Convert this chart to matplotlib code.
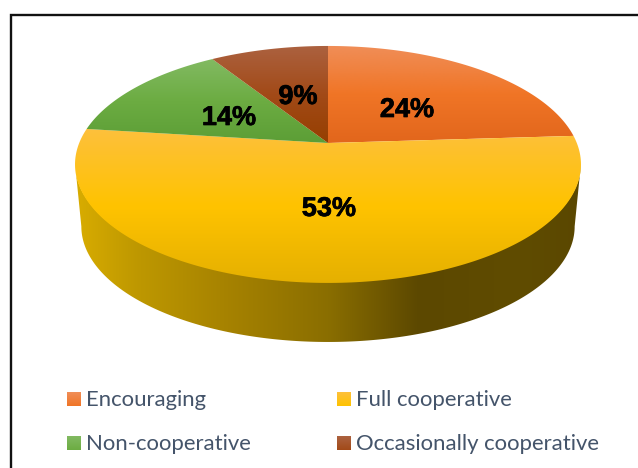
import numpy as np
import matplotlib
matplotlib.use("Agg")
import matplotlib.pyplot as plt
from matplotlib.colors import LinearSegmentedColormap as LSC
from matplotlib.patches import Polygon
import matplotlib.patheffects as pe

categories = ["Encouraging", "Full cooperative", "Non-cooperative", "Occasionally cooperative"]
values = [24, 53, 14, 9]
labels = ["24%", "53%", "14%", "9%"]

top_grads = [["#F08E58", "#F07526", "#E2661C"],
             ["#FDC03C", "#FFC300", "#E5B000"],
             ["#82BA62", "#6CAC42", "#5C9E36"],
             ["#AC6240", "#A24A18", "#963F00"]]
side_stops = [(0.0, "#D8AC00"), (0.12, "#BE9800"), (0.30, "#A68200"), (0.50, "#8A6E00"),
              (0.68, "#5C4800"), (0.88, "#604C00"), (1.0, "#5A4700")]
label_pos = [(407, 110), (329, 209), (229, 118), (298, 97)]

CX, APEX, B, A, K = 328.0, 143.0, 114.6, 248.8, -0.181
S = 0.975


def project(theta):
    u, v = np.cos(theta), np.sin(theta)
    d = 1 - K * v
    return CX + A * u / d, APEX - B * v / d


fig = plt.figure(figsize=(6.38, 4.68), dpi=100)
ax = fig.add_axes([0, 0, 1, 1])
ax.axis("off")


def grad_fill(poly_xy, extent, cmap, horizontal=False, z=2):
    g = np.linspace(0, 1, 256)
    arr = g[None, :] if horizontal else g[:, None]
    im = ax.imshow(arr, extent=extent, cmap=cmap, aspect="auto", zorder=z,
                   vmin=0, vmax=1, interpolation="bilinear")
    patch = Polygon(poly_xy, closed=True, transform=ax.transData, fc="none", ec="none")
    ax.add_patch(patch)
    im.set_clip_path(patch)


# side wall between the lower half of the top face and the lower rim
t0 = np.arcsin(-K)
t = np.linspace(np.pi + t0, 2 * np.pi - t0, 300)
tx, ty = project(t)
bx = CX + (tx - CX) * S
by = 226.5 + (ty - 164.5) * S
side = np.vstack([np.column_stack([tx, ty - 1]), np.column_stack([bx, by])[::-1]])
grad_fill(side, (76, 581, 345, 120), LSC.from_list("side", side_stops), horizontal=True, z=1)

# top face: wedges clockwise from 12 o'clock
fracs = np.array(values, float) / sum(values)
edges = np.pi / 2 - 2 * np.pi * np.concatenate([[0], np.cumsum(fracs)])
for i in range(len(values)):
    th = np.linspace(edges[i], edges[i + 1], 200)
    x, y = project(th)
    poly = np.vstack([[CX, APEX], np.column_stack([x, y])])
    y0, y1 = y.min(), max(y.max(), APEX)
    grad_fill(poly, (70, 590, y1, y0), LSC.from_list("c%d" % i, top_grads[i]), z=2)

for (px, py), s in zip(label_pos, labels):
    ax.text(px, py, s, ha="center", va="center", fontsize=19.5, fontweight="bold",
            family="Liberation Sans", color="black", zorder=5,
            path_effects=[pe.withStroke(linewidth=0.5, foreground="black")])

# frame
ax.plot([638, 10.5, 10.5], [14.5, 14.5, 468], color="#111111", lw=1.7, zorder=6,
        clip_on=False, solid_joinstyle="miter")

# legend
leg_pos = [(67, 392), (337, 392), (67, 436), (337, 436)]
for i, (lx, ly) in enumerate(leg_pos):
    grad_fill([(lx, ly), (lx + 14, ly), (lx + 14, ly + 14), (lx, ly + 14)],
              (lx, lx + 14, ly + 14, ly), LSC.from_list("l%d" % i, top_grads[i][:2]), z=4)
    ax.text(lx + 19.5, ly + 8, categories[i], ha="left", va="center", fontsize=15.9,
            family="Lato", color="#44546A", zorder=5)

ax.set_xlim(0, 638)
ax.set_ylim(468, 0)
fig.savefig("out.png", dpi=100, facecolor="white")
